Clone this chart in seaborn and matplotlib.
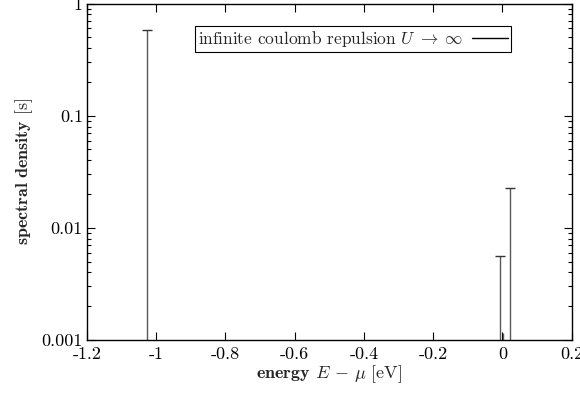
import matplotlib
matplotlib.use("Agg")
import matplotlib.pyplot as plt
import seaborn as sns
import pandas as pd
from matplotlib.lines import Line2D

energies = [-1.028, -0.008, 0.0012, 0.0216]
densities = [0.58, 0.0056, 0.00116, 0.0225]
xticks = [-1.2, -1.0, -0.8, -0.6, -0.4, -0.2, 0.0, 0.2]
xticklabels = ["-1.2", "-1", "-0.8", "-0.6", "-0.4", "-0.2", "0", "0.2"]
yticks = [0.001, 0.01, 0.1, 1]
yticklabels = ["0.001", "0.01", "0.1", "1"]
legend_label = r"infinite coulomb repulsion $U\;\rightarrow\;\infty$"

sns.set_theme(style="ticks")
plt.rcParams.update({
    "font.family": ["cmr10", "DejaVu Serif"],
    "mathtext.fontset": "cm",
    "axes.formatter.use_mathtext": True,
    "axes.unicode_minus": False,
    "font.size": 13,
})

df = pd.DataFrame({"energy": energies, "density": densities})

fig = plt.figure(figsize=(5.8, 3.93), dpi=100)
ax = fig.add_axes([0.15, 0.135, 0.8357, 0.856])

ax.set_yscale("log")
ax.set_xlim(-1.2, 0.2)
ax.set_ylim(0.001, 1)

ax.vlines(df["energy"], 0.001, df["density"], color="0.35", lw=1.0)
caps = df[df["density"] > 0.002]
sns.scatterplot(data=caps, x="energy", y="density", marker="_", s=60,
                color="0.2", linewidth=1.0, ax=ax, legend=False, zorder=3)

ax.set_xticks(xticks)
ax.set_xticklabels(xticklabels)
ax.set_yticks(yticks)
ax.set_yticklabels(yticklabels)
ax.tick_params(which="both", direction="in", top=True, right=True,
               labelsize=13, colors="black")
ax.tick_params(axis="x", pad=5)
ax.tick_params(axis="y", pad=3)
ax.tick_params(which="major", length=5.5, width=0.8)
ax.tick_params(which="minor", length=3, width=0.8)
ax.tick_params(axis="x", which="minor", bottom=False, top=False)
for s in ax.spines.values():
    s.set_color("black")
    s.set_linewidth(1.0)

ax.set_xlabel(r"$\mathbf{energy}$ $E\,-\,\mu$ [eV]", fontsize=13, labelpad=1)
ax.set_ylabel(r"$\mathbf{spectral\ density}$ [s]", fontsize=13, labelpad=5)

handle = Line2D([], [], color="black", lw=1.0)
leg = ax.legend([handle], [legend_label], loc="upper right",
                bbox_to_anchor=(0.874, 0.932), markerfirst=False,
                frameon=True, fancybox=False, framealpha=1,
                edgecolor="black", fontsize=12.5, handlelength=2.1,
                borderpad=0.15, handletextpad=0.5, borderaxespad=0)
leg.get_frame().set_linewidth(0.8)

fig.savefig("out.png", dpi=100)
